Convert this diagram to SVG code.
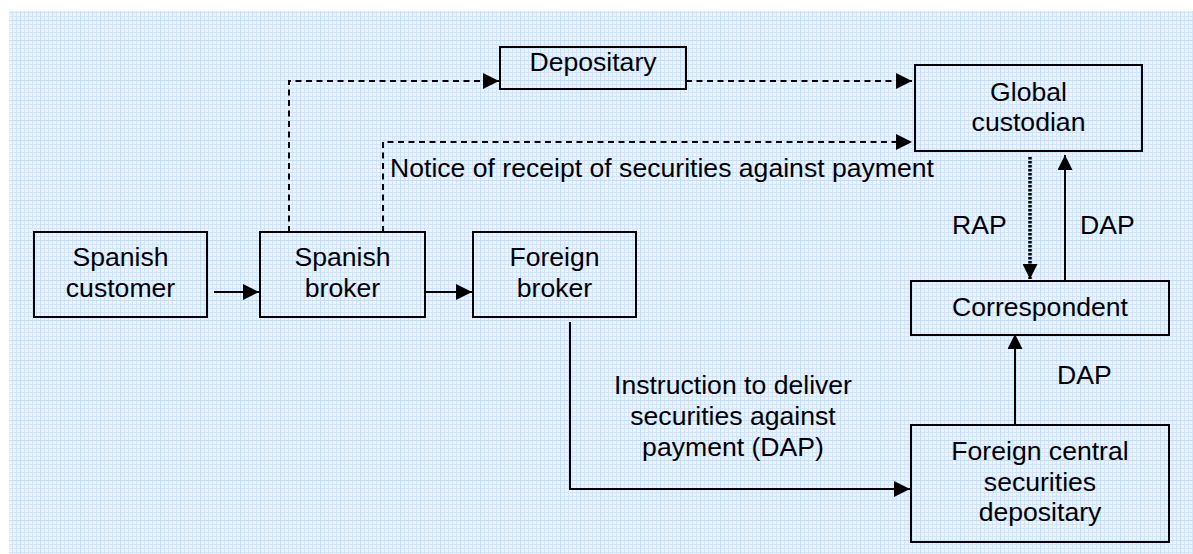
<svg xmlns="http://www.w3.org/2000/svg" width="1193" height="554" viewBox="0 0 1193 554">
  <style>
    .box { fill: none; stroke: #000; stroke-width: 2; }
    .lbl { font-family: "Liberation Sans", Arial, sans-serif; font-size: 26.6px; fill: #000; }
    .mid { text-anchor: middle; }
    .line { fill: none; stroke: #000; stroke-width: 2; }
    .dash { stroke-dasharray: 6 4.5; }
    .dot { stroke-width: 3.5; stroke-dasharray: 2.5 1.5; }
  </style>
  <defs>
    <pattern id="grid" width="4" height="4" patternUnits="userSpaceOnUse">
      <rect width="4" height="4" fill="#edf4fd"/>
      <path d="M0,0.5 H4 M0.5,0 V4" stroke="#d2e4f9" stroke-width="1"/>
    </pattern>
    <pattern id="gridMajor" width="20" height="20" patternUnits="userSpaceOnUse">
      <rect width="20" height="20" fill="url(#grid)"/>
      <path d="M0,0.5 H20 M0.5,0 V20" stroke="#c4dcf6" stroke-width="1"/>
    </pattern>
    <marker id="arrow" markerUnits="userSpaceOnUse" markerWidth="16" markerHeight="16" viewBox="0 0 14 14" refX="14" refY="7" orient="auto">
      <path d="M0,0 L14,7 L0,14 Z" fill="#000"/>
    </marker>
    <marker id="arrowSmall" markerUnits="userSpaceOnUse" markerWidth="15" markerHeight="15" viewBox="0 0 14 14" refX="14" refY="7" orient="auto">
      <path d="M0,0 L14,7 L0,14 Z" fill="#000"/>
    </marker>
  </defs>

  <!-- graph-paper background -->
  <rect x="9" y="11" width="1184" height="543" fill="url(#gridMajor)"/>

  <!-- connectors -->
  <g id="connectors">
    <path class="line dash" d="M289,232 V81 H499" marker-end="url(#arrow)"/>
    <path class="line dash" d="M686,81 H912" marker-end="url(#arrow)"/>
    <path class="line dash" d="M383,232 V142 H912" marker-end="url(#arrow)"/>
    <path class="line dot" d="M1030,157 V279" marker-end="url(#arrowSmall)"/>
    <path class="line" d="M1065,281 V155" marker-end="url(#arrowSmall)"/>
    <path class="line" d="M1015,425 V334" marker-end="url(#arrowSmall)"/>
    <path class="line" d="M570,322 V489 H910" marker-end="url(#arrow)"/>
    <path class="line" d="M214,292 H259" marker-end="url(#arrow)"/>
    <path class="line" d="M426,292 H472" marker-end="url(#arrow)"/>
    <text class="lbl" x="390" y="177">Notice of receipt of securities against payment</text>
    <text class="lbl" x="952" y="234">RAP</text>
    <text class="lbl" x="1080" y="234">DAP</text>
    <text class="lbl" x="1057" y="384">DAP</text>
    <text class="lbl mid" x="733" y="394">Instruction to deliver</text>
    <text class="lbl mid" x="733" y="425">securities against</text>
    <text class="lbl mid" x="733" y="456">payment (DAP)</text>
  </g>

  <g id="spanish-customer">
    <rect class="box" x="34" y="232" width="173" height="85"/>
    <text class="lbl mid" x="120.5" y="266">Spanish</text>
    <text class="lbl mid" x="120.5" y="297">customer</text>
  </g>

  <g id="spanish-broker">
    <rect class="box" x="260" y="232" width="165" height="85"/>
    <text class="lbl mid" x="342.5" y="266">Spanish</text>
    <text class="lbl mid" x="342.5" y="297">broker</text>
  </g>

  <g id="foreign-broker">
    <rect class="box" x="473" y="232" width="163" height="85"/>
    <text class="lbl mid" x="554.5" y="266">Foreign</text>
    <text class="lbl mid" x="554.5" y="297">broker</text>
  </g>

  <g id="depositary">
    <rect class="box" x="500" y="47" width="186" height="42"/>
    <text class="lbl mid" x="593" y="71">Depositary</text>
  </g>

  <g id="global-custodian">
    <rect class="box" x="915" y="65" width="227" height="86"/>
    <text class="lbl mid" x="1028.5" y="101">Global</text>
    <text class="lbl mid" x="1028.5" y="131">custodian</text>
  </g>

  <g id="correspondent">
    <rect class="box" x="911" y="281" width="258" height="54"/>
    <text class="lbl mid" x="1040" y="316">Correspondent</text>
  </g>

  <g id="foreign-csd">
    <rect class="box" x="911" y="425" width="258" height="117"/>
    <text class="lbl mid" x="1040" y="460">Foreign central</text>
    <text class="lbl mid" x="1040" y="491">securities</text>
    <text class="lbl mid" x="1040" y="521">depositary</text>
  </g>
</svg>
